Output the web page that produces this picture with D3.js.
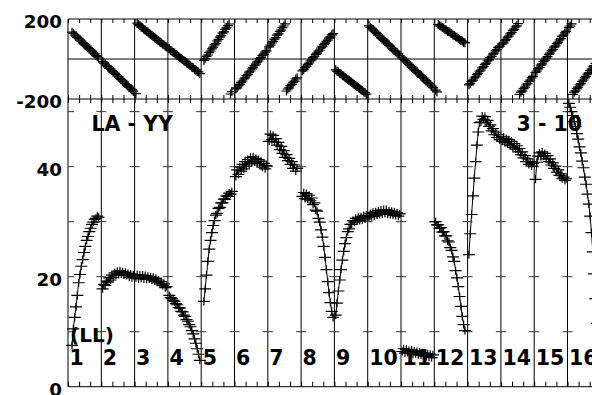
<!DOCTYPE html>
<html><head><meta charset="utf-8">
<script src="https://cdn.jsdelivr.net/npm/d3@7"></script>
<style>html,body{margin:0;padding:0;background:#fff;overflow:hidden}</style>
</head><body>
<svg id="chart" width="592" height="395"></svg>
<script>
// ---------------- data ----------------
const segLabels = ["1","2","3","4","5","6","7","8","9","10","11","12","13","14","15","16"];
const sampleStep = 0.04; // hours between samples inside each hour segment (24 samples per segment)
const phaseTickLabels = [200, -200];
const ampTickLabels = [0, 20, 40];
const ampGridValues = [10, 20, 30, 40, 50];
const titleLeft = "LA - YY";
const titleRight = "3 - 10";
const stokesLabel = "(LL)";

// amplitude per hour segment
const amp1  = [null,null,7.5,10.5,12.6,14.5,16.6,18.9,20.4,21.9,23.1,24.4,25.5,26.6,27.3,28.2,28.8,29.5,29.9,30.4,30.6,31.0,30.8,null];
const amp2  = [17.8,18.6,18.4,19.2,19.0,19.8,19.4,20.3,19.9,20.7,20.3,21.0,20.4,21.1,20.5,20.9,20.3,20.8,20.2,20.6,19.9,20.5,19.8,20.3];
const amp3  = [19.8,20.4,19.6,20.3,19.7,20.3,19.6,20.2,19.5,20.1,19.6,20.0,19.4,19.9,19.2,19.7,19.0,19.4,18.7,19.1,18.4,18.7,18.0,18.2];
const amp4  = [16.6,16.2,16.0,15.7,15.5,15.1,14.9,14.4,14.3,13.7,13.6,13.0,12.8,12.2,11.9,11.3,10.9,10.2,9.6,8.7,7.9,6.9,5.9,4.8];
const amp5  = [null,15.5,17.8,20.3,22.8,25.0,26.6,28.0,29.3,30.2,31.2,31.5,32.4,32.6,33.4,33.4,34.1,34.1,34.7,34.6,35.2,35.0,35.5,null];
const amp6  = [38.2,39.4,38.6,39.9,39.2,40.4,39.6,40.9,40.1,41.3,40.5,41.7,40.8,41.8,40.9,41.5,40.6,41.3,40.3,41.0,39.9,40.6,39.6,40.2];
const amp7  = [44.6,45.9,44.9,45.7,44.5,45.1,43.9,44.4,43.1,43.7,42.4,42.9,41.7,42.2,41.1,41.5,40.4,40.9,39.7,40.3,39.2,39.7,null,null];
const amp8  = [34.6,35.3,34.2,35.1,34.1,34.8,33.8,34.3,33.1,33.4,32.1,31.9,30.6,29.9,28.5,27.2,25.5,23.5,21.3,19.1,17.1,15.3,13.7,12.6];
const amp9  = [13.0,15.2,17.4,19.4,21.3,23.0,24.6,26.0,27.1,28.2,28.7,29.5,29.5,30.2,29.9,30.6,30.1,30.8,30.2,30.9,30.3,31.1,30.5,31.2];
const amp10 = [30.8,31.5,30.9,31.7,31.0,31.8,31.2,32.0,31.3,32.1,31.4,32.2,31.5,32.2,31.4,32.0,31.3,31.9,31.2,31.8,31.1,31.6,31.0,31.4];
const amp11 = [6.4,6.9,6.1,6.8,6.2,6.6,6.0,6.7,5.9,6.5,6.0,6.4,5.8,6.3,5.7,6.2,5.6,6.1,5.5,6.0,5.4,5.9,5.3,5.8];
const amp12 = [30.0,29.4,29.4,28.8,28.9,28.1,28.2,27.4,27.4,26.5,26.3,25.3,24.8,23.6,22.8,21.1,19.8,18.2,16.4,14.6,12.8,11.3,10.2,null];
const amp13 = [24.0,27.8,31.3,34.7,37.9,40.9,43.9,46.3,48.0,48.1,49.2,48.6,49.1,48.0,48.4,47.3,47.6,46.5,46.9,45.8,46.3,45.3,45.8,44.9];
const amp14 = [44.6,45.4,44.4,45.1,44.1,44.9,43.8,44.6,43.5,44.2,43.2,43.8,42.7,43.3,42.2,42.7,41.6,42.0,40.9,41.4,40.4,40.9,40.1,40.6];
const amp15 = [37.7,40.8,41.9,42.5,41.8,42.7,41.9,42.4,41.4,42.0,40.9,41.4,40.3,40.7,39.7,40.1,39.0,39.4,38.4,38.7,37.8,38.1,37.5,37.8];
const amp16 = [51.5,50.8,50.0,49.3,48.2,47.3,46.0,45.0,43.6,42.5,41.0,39.8,38.1,36.8,35.0,33.2,31.0,28.0,24.5,20.5,16.0,11.5,null,null];

// phase (degrees) per hour segment
const ph1  = [null,null,134,128,120,115,107,103,94,90,81,77,69,64,56,51,43,39,30,26,17,13,5,null];
const ph2  = [-13,-21,-25,-34,-38,-47,-51,-59,-64,-72,-77,-85,-89,-98,-102,-111,-115,-123,-128,-136,-141,-149,-153,-162];
const ph3  = [-173,179,172,167,159,156,148,145,138,135,127,124,117,113,106,103,95,92,85,81,74,71,64,60];
const ph4  = [51,43,40,33,30,22,19,12,8,1,-2,-9,-13,-20,-23,-30,-34,-41,-44,-52,-55,-62,-65,-73];
const ph5  = [null,-7,1,13,20,32,40,51,59,71,78,90,98,109,117,129,136,148,156,167,175,-175,-163,null];
const ph6  = [-150,-144,-134,-127,-117,-110,-100,-94,-83,-77,-66,-60,-50,-43,-33,-26,-16,-10,1,7,18,24,34,41];
const ph7  = [61,69,80,88,99,107,119,126,138,145,157,165,176,-160,-150,-144,-133,-127,-117,-111,-100,-94,null,null];
const ph8  = [-59,-53,-43,-37,-27,-20,-10,-4,6,12,23,29,39,45,55,62,72,78,88,94,104,111,121,127];
const ph9  = [-54,-61,-64,-72,-75,-82,-85,-92,-96,-103,-106,-113,-116,-124,-127,-134,-137,-144,-148,-155,-158,-165,-168,-176];
const ph10 = [166,158,153,145,140,132,128,119,115,106,102,94,89,81,76,68,64,55,51,42,38,30,25,17];
const ph11 = [6,-2,-7,-15,-20,-28,-32,-41,-45,-54,-58,-66,-71,-79,-84,-92,-96,-105,-109,-118,-122,-130,-135,-143];
const ph12 = [-156,-164,173,166,164,157,155,148,145,139,136,130,127,120,118,111,109,102,99,93,90,84,81,null];
const ph13 = [-129,-123,-112,-106,-95,-89,-78,-72,-61,-55,-44,-38,-27,-21,-10,-4,7,13,24,30,41,47,58,64];
const ph14 = [75,81,92,98,109,115,126,132,143,149,160,166,177,-177,-166,-159,-148,-141,-130,-123,-112,-105,-94,-87];
const ph15 = [-67,-60,-49,-42,-31,-24,-13,-6,5,12,23,30,41,48,59,66,77,84,95,102,113,120,131,138];
const ph16 = [158,165,176,-177,-166,-159,-148,-141,-130,-123,-112,-105,-94,-87,-76,-69,-58,-51,-40,-33,-22,-15,null,null];

const ampSegs = [amp1,amp2,amp3,amp4,amp5,amp6,amp7,amp8,amp9,amp10,amp11,amp12,amp13,amp14,amp15,amp16];
const phSegs  = [ph1,ph2,ph3,ph4,ph5,ph6,ph7,ph8,ph9,ph10,ph11,ph12,ph13,ph14,ph15,ph16];

// ---------------- drawing ----------------
const FONT = "'DejaVu Sans', 'Liberation Sans', sans-serif";
const svg = d3.select("#chart");
svg.append("rect").attr("width",592).attr("height",395).attr("fill","#fff");

const x  = d3.scaleLinear().domain([0, 16]).range([68, 600.8]);
const yP = d3.scaleLinear().domain([-200, 200]).range([99, 19]);
const yA = d3.scaleLinear().domain([0, 52.3]).range([386.7, 99]);

const tEnd = 16.5;
const minorTicks = d3.range(0, 49).map(i => i / 3);

// frame / separator lines
const g = svg.append("g").attr("stroke","#000").attr("stroke-width",1).attr("fill","none");
d3.range(0, 16).forEach(k => {
  g.append("line").attr("x1", x(k)).attr("x2", x(k)).attr("y1", yP(200)).attr("y2", yA(0));
});
[yP(200), yP(0), yP(-200), yA(0)].forEach(yy => {
  g.append("line").attr("x1", x(0)).attr("x2", x(tEnd)).attr("y1", yy).attr("y2", yy);
});

// minor time ticks via d3 axes
function tickAxis(axisFn, yy, size) {
  const a = axisFn(x).tickValues(minorTicks).tickSize(size).tickSizeOuter(0).tickFormat("");
  const ag = svg.append("g").attr("transform", `translate(0,${yy})`).call(a);
  ag.select(".domain").remove();
  ag.selectAll("line").attr("stroke","#000");
}
tickAxis(d3.axisBottom, yP(200), 4);
tickAxis(d3.axisTop, yP(-200), 4);
tickAxis(d3.axisBottom, yP(-200), 4);
tickAxis(d3.axisTop, yA(0), 5);

// amplitude grid dashes on each separator
const dashG = svg.append("g").attr("stroke","#333").attr("stroke-width",1);
ampGridValues.forEach(v => {
  dashG.append("line").attr("x1", x(0)).attr("x2", x(0) + 6).attr("y1", yA(v)).attr("y2", yA(v));
  d3.range(1, 16).forEach(k => {
    dashG.append("line").attr("x1", x(k) - 5).attr("x2", x(k) + 5).attr("y1", yA(v)).attr("y2", yA(v));
  });
});

// y-axis labels through d3 axes (plain hyphen minus as in the reference)
function labelAxis(scale, vals) {
  const a = d3.axisLeft(scale).tickValues(vals).tickSize(0).tickPadding(6).tickFormat(d => String(d));
  const ag = svg.append("g").attr("transform", `translate(${x(0)},0)`).call(a);
  ag.select(".domain").remove();
  ag.selectAll("text")
    .attr("font-family", FONT).attr("font-weight","bold").attr("font-size", 18.3)
    .attr("fill","#000").attr("transform","translate(0,3)");
}
labelAxis(yP, phaseTickLabels);
labelAxis(yA, ampTickLabels);

// build points
function pts(segArr) {
  return segArr.map((arr, k) => arr.map((v, j) => ({t: k + sampleStep * (j + 1), v})));
}
const ampPts = pts(ampSegs);
const phPts  = pts(phSegs);

const markG = svg.append("g").attr("stroke","#000").attr("stroke-width",1.2).attr("fill","none");
// amplitude connecting line per segment
const line = d3.line().defined(d => d.v != null).x(d => x(d.t)).y(d => yA(d.v));
ampPts.forEach(seg => markG.append("path").attr("stroke-width",1).attr("d", line(seg)));
// amplitude markers
ampPts.flat().filter(d => d.v != null).forEach(d => {
  const cx = x(d.t), cy = yA(d.v);
  markG.append("path").attr("d", `M${cx-6},${cy}H${cx+6}M${cx},${cy-4}V${cy+4}`);
});
// phase markers
phPts.flat().filter(d => d.v != null).forEach(d => {
  const cx = x(d.t), cy = yP(d.v);
  markG.append("path").attr("d", `M${cx-5},${cy}H${cx+5}M${cx},${cy-4.5}V${cy+4.5}`);
});

// texts
const txt = (s, xx, yy, size) => svg.append("text").text(s).attr("x", xx).attr("y", yy)
  .attr("font-family", FONT).attr("font-weight","bold").attr("font-size", size).attr("fill","#000");
txt(titleLeft, 91.5, 130.5, 20.5);
txt(titleRight, 516.5, 131, 20.5);
txt(stokesLabel, 70, 342, 20);
segLabels.forEach((s, k) => txt(s, x(k) + 1.5, 365, 20.5));
</script>
</body></html>
